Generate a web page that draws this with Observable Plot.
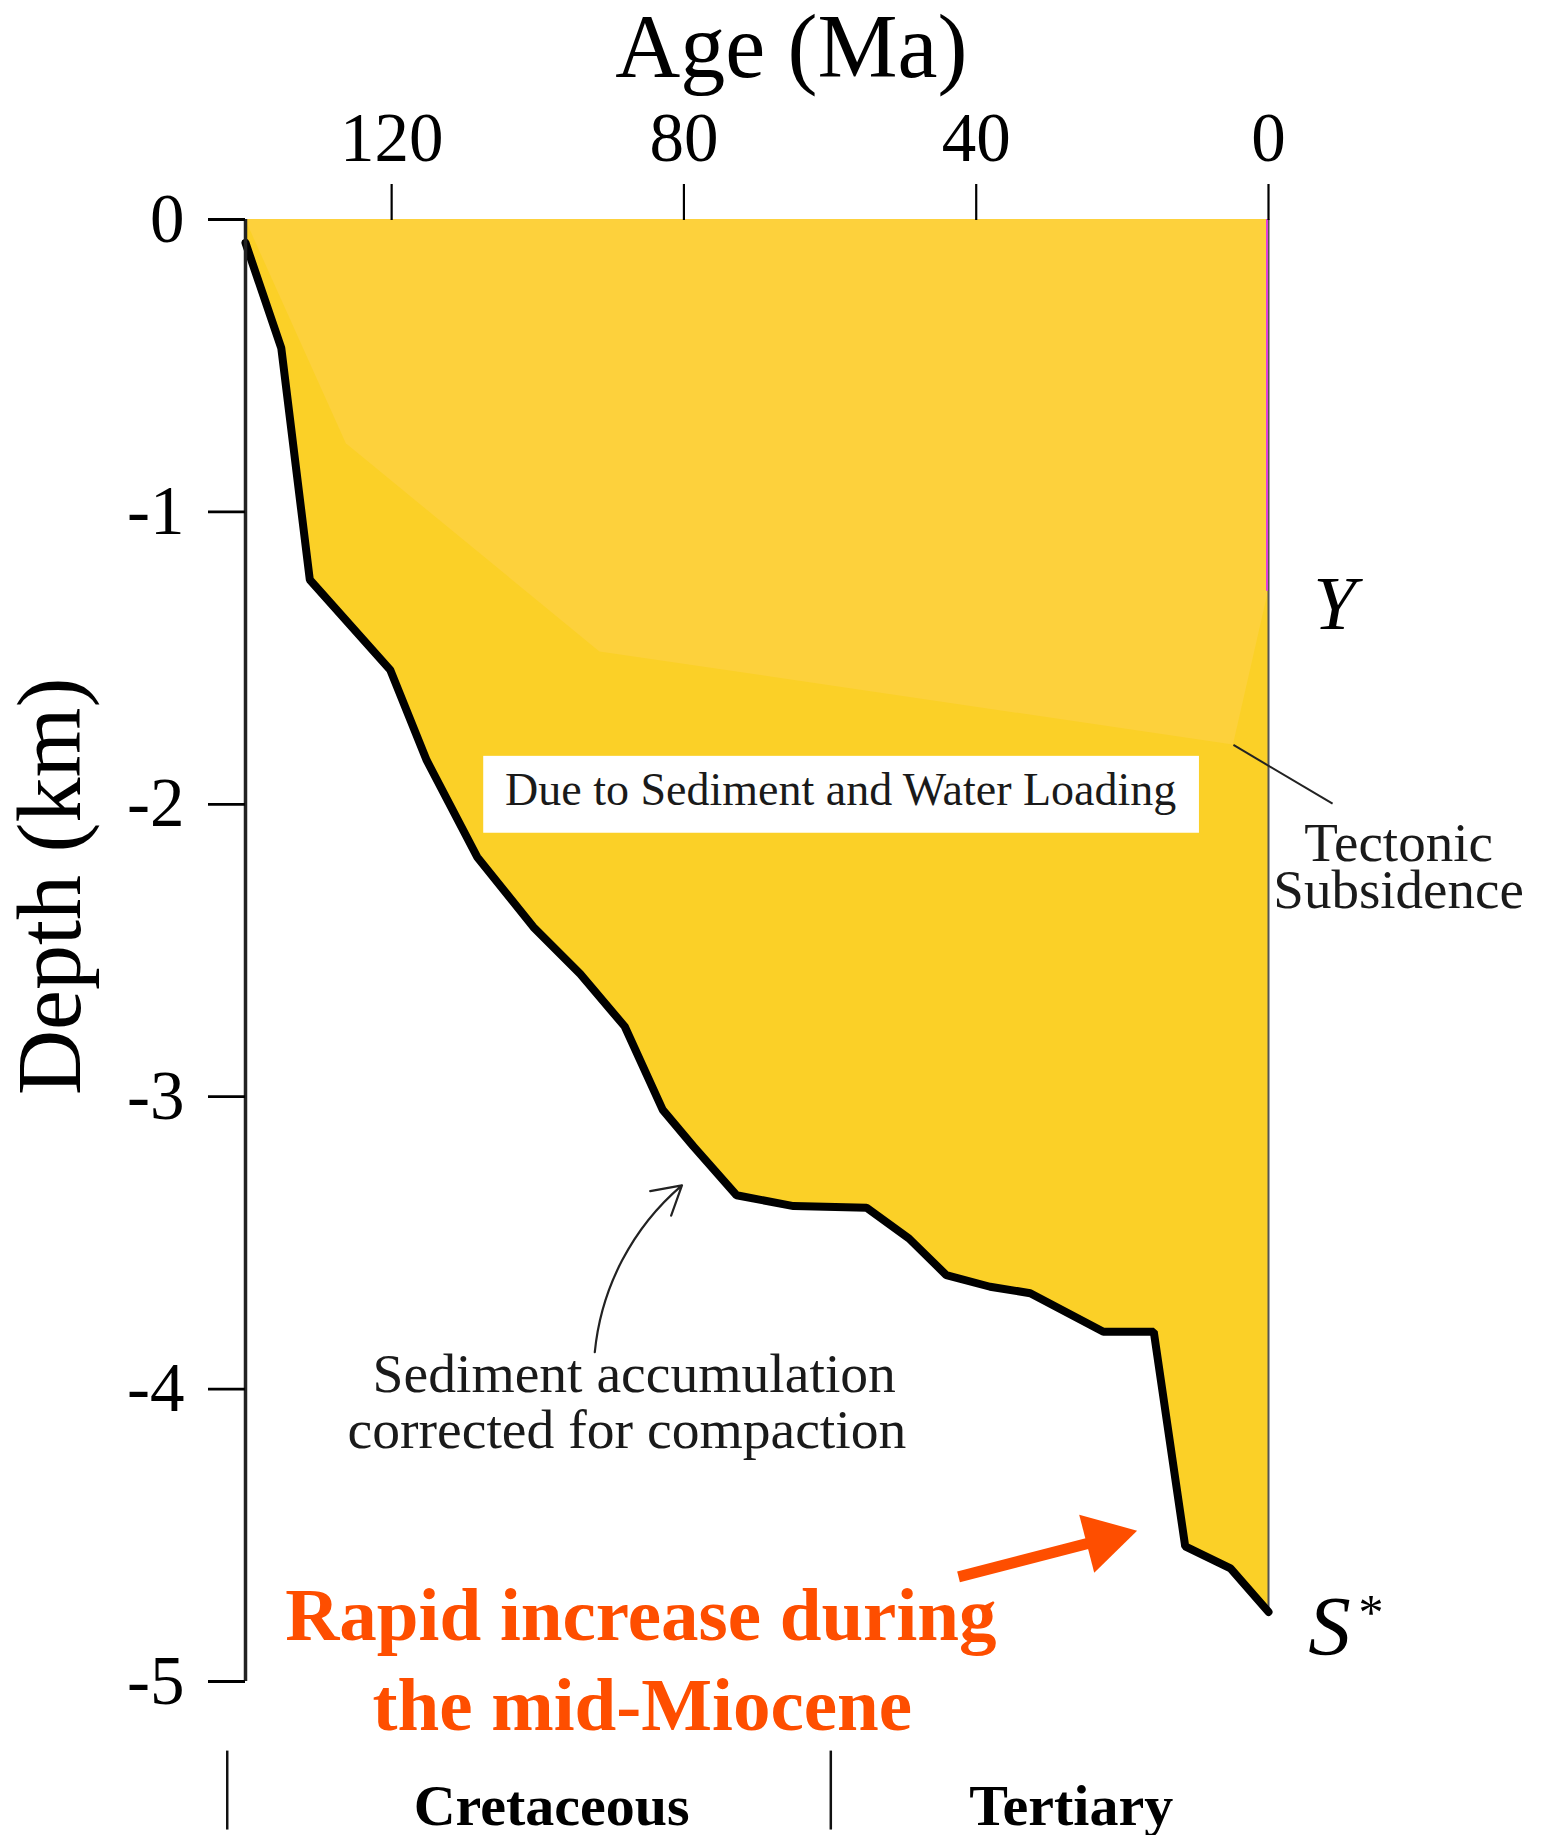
<!DOCTYPE html>
<html><head><meta charset="utf-8">
<script src="https://cdn.jsdelivr.net/npm/d3@7"></script>
<script src="https://cdn.jsdelivr.net/npm/@observablehq/plot@0.6"></script>
<style>html,body{margin:0;padding:0;background:#fff;} #chart svg{display:block}</style>
</head><body><div id="chart"></div>
<script>
// Sediment accumulation corrected for compaction (S*)
const ages = [140, 135.1, 131.2, 120.2, 115.2, 108.3, 100.6, 94.2, 88.1, 82.9, 78.7, 72.8, 65.0, 55.0, 49.2, 44.1, 38.1, 32.6, 22.6, 15.7, 11.4, 5.2, 0];
const sedimentDepth = [-0.08, -0.44, -1.232, -1.54, -1.85, -2.18, -2.42, -2.58, -2.76, -3.045, -3.17, -3.337, -3.374, -3.38, -3.485, -3.61, -3.65, -3.672, -3.804, -3.804, -4.538, -4.613, -4.762];
// Tectonic subsidence (Y)
const tectonicAges = [140, 126.2, 91.5, 4.8, 0];
const tectonicDepth = [0, -0.767, -1.479, -1.797, -1.271];
// Axis ticks
const xTicks = [120, 80, 40, 0];
const yTicks = [0, -1, -2, -3, -4, -5];
// Periods
const periods = ["Cretaceous", "Tertiary"];
const periodCenters = [98.1, 27.0];
const periodBounds = [142.5, 59.9];

const sed = ages.map((a, i) => ({age: a, depth: sedimentDepth[i]}));
const tec = tectonicAges.map((a, i) => ({age: a, depth: tectonicDepth[i]}));

const ORANGE = "#FE4E00";
const serif = "'Liberation Serif', 'Times New Roman', Times, serif";

const chart = Plot.plot({
  width: 1555,
  height: 1835,
  marginLeft: 245,
  marginRight: 287,
  marginTop: 219,
  marginBottom: 154,
  x: {domain: [140, 0]},
  y: {domain: [-5, 0]},
  style: {fontFamily: serif, background: "white", color: "black", overflow: "visible"},
  marks: [
    Plot.areaY(sed, {x: "age", y1: 0, y2: "depth", fill: "#FBD027"}),
    Plot.areaY(tec, {x: "age", y1: 0, y2: "depth", fill: "#FDD13C"}),
    Plot.ruleX([0], {y1: 0, y2: sedimentDepth[sedimentDepth.length - 1], stroke: "#555", strokeWidth: 2}),
    Plot.ruleX([0], {y1: 0, y2: tectonicDepth[tectonicDepth.length - 1], stroke: "#e03ee0", strokeWidth: 2, dx: -1.5}),
    Plot.line(sed, {x: "age", y: "depth", stroke: "black", strokeWidth: 8, strokeLinejoin: "miter"}),
    Plot.ruleX([140], {y1: 0, y2: -5, stroke: "#222", strokeWidth: 3.5}),
    Plot.axisX(xTicks, {anchor: "top", tickSize: 36, tickPadding: 23, fontSize: 69, label: null, strokeWidth: 2.2, tickFormat: d => String(d)}),
    Plot.axisY(yTicks, {anchor: "left", tickSize: 37, tickPadding: 24, fontSize: 69, label: null, strokeWidth: 2.8, tickFormat: d => String(d)}),
    // axis titles
    Plot.text([{x: 65.3, y: 0.489, t: "Age (Ma)"}], {x: "x", y: "y", text: "t", fontSize: 90, lineAnchor: "bottom", fill: "black"}),
    Plot.text([{x: 166.6, y: -2.28, t: "Depth (km)"}], {x: "x", y: "y", text: "t", fontSize: 90, rotate: -90, fill: "black"}),
    // loading box
    Plot.rect([{x1: 107.4, x2: 9.45, y1: -1.836, y2: -2.099}], {x1: "x1", x2: "x2", y1: "y1", y2: "y2", fill: "white"}),
    Plot.text([{x: 58.55, y: -2.003, t: "Due to Sediment and Water Loading"}], {x: "x", y: "y", text: "t", fontSize: 46, lineAnchor: "bottom", fill: "#1a1a1a"}),
    // tectonic subsidence label
    Plot.link([{x1: 4.8, y1: -1.797, x2: -8.77, y2: -1.998}], {x1: "x1", y1: "y1", x2: "x2", y2: "y2", stroke: "#222", strokeWidth: 2}),
    Plot.text([{x: -17.8, y: -2.355, t: "Tectonic\nSubsidence"}], {x: "x", y: "y", text: "t", fontSize: 55, lineHeight: 0.85, lineAnchor: "bottom", fill: "#1a1a1a"}),
    Plot.text([{x: -9.04, y: -1.402, t: "Y"}], {x: "x", y: "y", text: "t", fontSize: 77, fontStyle: "italic", lineAnchor: "bottom", fill: "black"}),
    Plot.text([{x: -8.36, y: -4.909, t: "S"}], {x: "x", y: "y", text: "t", fontSize: 85, fontStyle: "italic", lineAnchor: "bottom", fill: "black"}),
    Plot.text([{x: -14.04, y: -4.821, t: "*"}], {x: "x", y: "y", text: "t", fontSize: 50, lineAnchor: "bottom", fill: "black"}),
    // sediment accumulation label
    Plot.arrow([{x1: 92.2, y1: -3.874, x2: 80.27, y2: -3.303}], {x1: "x1", y1: "y1", x2: "x2", y2: "y2", bend: 22, headLength: 22, stroke: "#222", strokeWidth: 2.2}),
    Plot.text([{x: 86.8, y: -4.010, t: "Sediment accumulation"}, {x: 87.8, y: -4.202, t: "corrected for compaction"}], {x: "x", y: "y", text: "t", fontSize: 55.6, lineAnchor: "bottom", fill: "#1a1a1a"}),
    // orange annotation
    Plot.link([{x1: 42.42, y1: -4.642, x2: 22.58, y2: -4.514}], {x1: "x1", y1: "y1", x2: "x2", y2: "y2", stroke: ORANGE, strokeWidth: 11}),
    Plot.dot([{x: 22.58, y: -4.514}], {x: "x", y: "y", symbol: "triangle", r: 22.3, rotate: 75.5, fill: ORANGE, stroke: "none"}),
    Plot.text([{x: 85.9, y: -4.858, t: "Rapid increase during"}, {x: 85.7, y: -5.166, t: "the mid-Miocene"}], {x: "x", y: "y", text: "t", fontSize: 75, fontWeight: "bold", lineAnchor: "bottom", fill: ORANGE}),
    // periods
    Plot.ruleX(periodBounds, {y1: -5.238, y2: -5.508, stroke: "#111", strokeWidth: 2.5}),
    Plot.text(periods, {x: (d, i) => periodCenters[i], y: () => -5.491, text: d => d, fontSize: 58, fontWeight: "bold", lineAnchor: "bottom", fill: "black"})
  ]
});
document.getElementById("chart").appendChild(chart);
</script>
</body></html>
